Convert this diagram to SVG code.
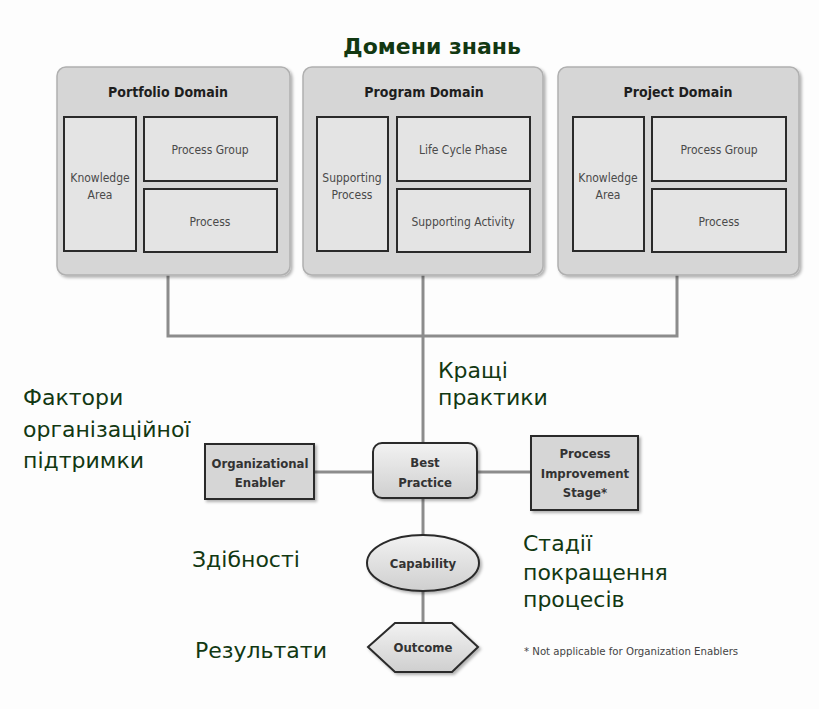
<svg xmlns="http://www.w3.org/2000/svg" width="819" height="709" viewBox="0 0 819 709">
  <defs>
    <linearGradient id="softFill" x1="0" y1="0" x2="0" y2="1">
      <stop offset="0" stop-color="#f2f2f2"/>
      <stop offset="1" stop-color="#cfcfcf"/>
    </linearGradient>
    <filter id="shadow" x="-10%" y="-10%" width="130%" height="130%">
      <feDropShadow dx="2" dy="2" stdDeviation="1.5" flood-color="#000" flood-opacity="0.3"/>
    </filter>
  </defs>
  <style>
    .panel { fill: #d6d6d6; stroke: #b0b0b0; stroke-width: 1.5; }
    .cell { fill: #e4e4e4; stroke: #2a2a2a; stroke-width: 2; }
    .node { stroke: #2a2a2a; stroke-width: 2; }
    .link { fill: none; stroke: #8c8c8c; stroke-width: 3; }
    .ptitle { font-family: "DejaVu Sans Condensed", "Liberation Sans", sans-serif; font-weight: bold; font-size: 14px; fill: #1e1e1e; text-anchor: middle; }
    .ctext { font-family: "DejaVu Sans Condensed", "Liberation Sans", sans-serif; font-size: 12px; fill: #4a4a4a; text-anchor: middle; }
    .ntext { font-family: "DejaVu Sans Condensed", "Liberation Sans", sans-serif; font-weight: bold; font-size: 13px; fill: #333; text-anchor: middle; }
    .ua { font-family: "DejaVu Sans", "Liberation Sans", sans-serif; font-size: 22px; fill: #123812; }
    .note { font-family: "DejaVu Sans Condensed", "Liberation Sans", sans-serif; font-size: 11.3px; fill: #444; }
  </style>

  <rect x="0" y="0" width="819" height="709" fill="#fdfdfd"/>

  <!-- connectors -->
  <g id="connectors">
    <polyline class="link" points="168,275 168,336 677,336 677,275"/>
    <line class="link" x1="423" y1="275" x2="423" y2="443"/>
    <line class="link" x1="314" y1="472" x2="373" y2="472"/>
    <line class="link" x1="477" y1="472" x2="531" y2="472"/>
    <line class="link" x1="423" y1="498" x2="423" y2="535"/>
    <line class="link" x1="423" y1="591" x2="423" y2="623"/>
  </g>

  <!-- knowledge domains -->
  <g id="portfolio-domain">
    <rect class="panel" x="57" y="67" width="233" height="208" rx="9" filter="url(#shadow)"/>
    <text class="ptitle" x="168" y="97">Portfolio Domain</text>
    <rect class="cell" x="64" y="117" width="72" height="134"/>
    <text class="ctext" x="100" y="182">Knowledge</text>
    <text class="ctext" x="100" y="199">Area</text>
    <rect class="cell" x="144" y="117" width="133" height="64"/>
    <text class="ctext" x="210" y="154">Process Group</text>
    <rect class="cell" x="144" y="189" width="133" height="63"/>
    <text class="ctext" x="210" y="226">Process</text>
  </g>

  <g id="program-domain">
    <rect class="panel" x="303" y="67" width="240" height="208" rx="9" filter="url(#shadow)"/>
    <text class="ptitle" x="424" y="97">Program Domain</text>
    <rect class="cell" x="317" y="117" width="71" height="134"/>
    <text class="ctext" x="352" y="182">Supporting</text>
    <text class="ctext" x="352" y="199">Process</text>
    <rect class="cell" x="397" y="117" width="133" height="64"/>
    <text class="ctext" x="463" y="154">Life Cycle Phase</text>
    <rect class="cell" x="397" y="189" width="133" height="63"/>
    <text class="ctext" x="463" y="226">Supporting Activity</text>
  </g>

  <g id="project-domain">
    <rect class="panel" x="558" y="67" width="241" height="208" rx="9" filter="url(#shadow)"/>
    <text class="ptitle" x="678" y="97">Project Domain</text>
    <rect class="cell" x="573" y="117" width="71" height="134"/>
    <text class="ctext" x="608" y="182">Knowledge</text>
    <text class="ctext" x="608" y="199">Area</text>
    <rect class="cell" x="652" y="117" width="134" height="64"/>
    <text class="ctext" x="719" y="154">Process Group</text>
    <rect class="cell" x="652" y="189" width="134" height="63"/>
    <text class="ctext" x="719" y="226">Process</text>
  </g>

  <!-- lower chain -->
  <g id="organizational-enabler">
    <rect class="node" x="205" y="444" width="109" height="55" fill="#d6d6d6" filter="url(#shadow)"/>
    <text class="ntext" x="260" y="468">Organizational</text>
    <text class="ntext" x="260" y="487">Enabler</text>
  </g>

  <g id="best-practice">
    <rect class="node" x="373" y="443" width="104" height="55" rx="9" fill="url(#softFill)" filter="url(#shadow)"/>
    <text class="ntext" x="425" y="467">Best</text>
    <text class="ntext" x="425" y="487">Practice</text>
  </g>

  <g id="process-improvement-stage">
    <rect class="node" x="531" y="436" width="107" height="74" fill="#d6d6d6" filter="url(#shadow)"/>
    <text class="ntext" x="585" y="458">Process</text>
    <text class="ntext" x="585" y="478">Improvement</text>
    <text class="ntext" x="585" y="497">Stage*</text>
  </g>

  <g id="capability">
    <ellipse class="node" cx="423" cy="563" rx="56" ry="28" fill="url(#softFill)" filter="url(#shadow)"/>
    <text class="ntext" x="423" y="568">Capability</text>
  </g>

  <g id="outcome">
    <polygon class="node" points="368,647 395,623 452,623 478,647 452,672 395,672" fill="url(#softFill)" filter="url(#shadow)"/>
    <text class="ntext" x="423" y="652">Outcome</text>
  </g>

  <!-- Ukrainian captions -->
  <g id="captions">
    <text class="ua" x="432" y="54" text-anchor="middle" font-weight="bold" font-size="19">Домени знань</text>
    <text class="ua" x="438" y="378">Кращі</text>
    <text class="ua" x="438" y="405">практики</text>
    <text class="ua" x="23" y="405">Фактори</text>
    <text class="ua" x="23" y="437">організаційної</text>
    <text class="ua" x="23" y="468">підтримки</text>
    <text class="ua" x="192" y="567">Здібності</text>
    <text class="ua" x="523" y="551">Стадії</text>
    <text class="ua" x="523" y="580">покращення</text>
    <text class="ua" x="523" y="607">процесів</text>
    <text class="ua" x="195" y="658">Результати</text>
  </g>

  <text class="note" x="524" y="655">* Not applicable for Organization Enablers</text>
</svg>
